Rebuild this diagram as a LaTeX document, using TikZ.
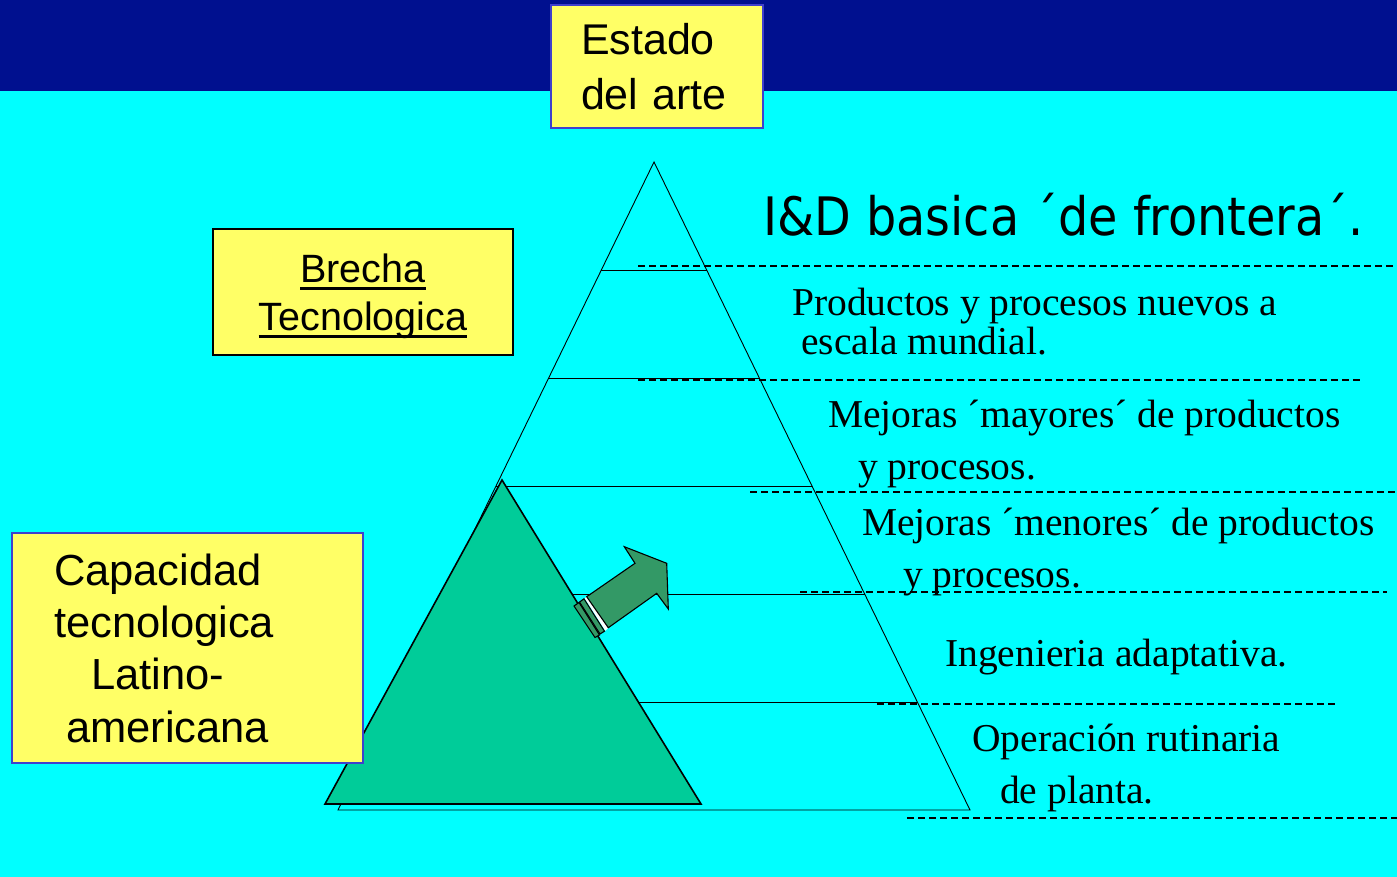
\documentclass[tikz,border=0pt]{standalone}
\usepackage{fontspec}
\setmainfont{Liberation Serif}
\newfontfamily\arialfont{Liberation Sans}
\newfontfamily\tahomafont{DejaVu Sans Condensed}
\usetikzlibrary{calc}
\definecolor{skycyan}{RGB}{0,255,255}
\definecolor{bandblue}{RGB}{0,16,143}
\definecolor{boxyellow}{RGB}{255,255,102}
\definecolor{boxline}{RGB}{64,64,204}
\definecolor{capgreen}{RGB}{0,204,153}
\definecolor{arrowgreen}{RGB}{51,153,102}
\newcommand{\ultext}[1]{\raisebox{0pt}[\height][0pt]{\setbox0\hbox{#1}\rlap{\rule[-7.5pt]{\wd0}{2.8pt}}\box0}}

\begin{document}
\begin{tikzpicture}[x=1pt,y=-1pt,
  layer/.style={line width=0.9pt},
  guide/.style={line width=1.2pt,dash pattern=on 7pt off 4pt},
  yellowbox/.style={fill=boxyellow,inner sep=0pt},
  levelfont/.style={font=\fontsize{39.5}{48}\selectfont,anchor=base west,inner sep=0pt}]
\tikzstyle{arrowpart}=[fill=arrowgreen,draw=black,line width=1.1pt,line join=miter]

\useasboundingbox (0,0) rectangle (1397,877);
\fill[skycyan] (0,0) rectangle (1397,877);
\fill[bandblue] (0,0) rectangle (1397,91);

\coordinate (apex) at (654,162);
\coordinate (baseL) at (338,810);
\coordinate (baseR) at (970,810);
\draw[layer] (apex) -- (baseL) -- (baseR) -- cycle;
\foreach \k in {1,...,5}
  \draw[layer] ($(apex)!{\k/6}!(baseL)$) -- ($(apex)!{\k/6}!(baseR)$);

\foreach \ya/\xa/\xb in {266/638/1397,380/638/1362,492/750/1397,592/800/1387,704/877/1335,818/907/1397}
  \draw[guide] (\xa,\ya) -- (\xb,\ya);

\coordinate (gtop) at (502,480);
\coordinate (gleft) at (325,804);
\coordinate (gright) at (701,804);
\filldraw[fill=capgreen,line width=1.6pt,line join=miter] (gtop) -- (gleft) -- (gright) -- cycle;

\filldraw[arrowpart] (574,606) -- (579,602.5) -- (599.5,635) -- (595,637.5) -- cycle;
\filldraw[arrowpart] (579.5,602) -- (584,598.8) -- (604.5,631.2) -- (600,634) -- cycle;
\fill[white] (584.8,598.3) -- (586.7,596.7) -- (608.3,627.7) -- (605.3,630.7) -- cycle;
\filldraw[arrowpart] (586.7,596.7) -- (635,563.3) -- (624.3,546.7) -- (666.7,563.3)
  -- (668.3,609) -- (656.7,593.3) -- (608.3,627.7) -- cycle;

\node[yellowbox,draw=boxline,line width=1.5pt,minimum width=212pt,minimum height=123pt,
  text width=152pt,inner xsep=30pt,align=left,font=\arialfont\fontsize{43}{55}\selectfont]
  (estado) at (657,66.5) {Estado\\del arte};
\node[yellowbox,draw=black,line width=2pt,minimum width=300pt,minimum height=126pt,
  align=center,font=\arialfont\fontsize{39.5}{48}\selectfont]
  (brecha) at (363,292) {\ultext{Brecha}\\\ultext{Tecnologica}};
\node[yellowbox,draw=boxline,line width=1.5pt,minimum width=351pt,minimum height=230pt,
  text width=267pt,inner xsep=42pt,align=left,font=\arialfont\fontsize{43.5}{52.3}\selectfont]
  (capacidad) at (187.5,648) {Capacidad\\tecnologica\\\hspace*{37pt}Latino-\\\hspace*{12pt}americana};

\node[font=\tahomafont\fontsize{53}{60}\selectfont,anchor=base west,inner sep=0pt]
  (frontera) at (763,236) {I\&D basica ´de frontera´.};
\node[levelfont] (nuevos) at (792,316) {Productos y procesos nuevos a};
\node[levelfont] (nuevosb) at (801,354) {escala mundial.};
\node[levelfont] (mayores) at (828,427) {Mejoras ´mayores´ de productos};
\node[levelfont] (mayoresb) at (858,479) {y procesos.};
\node[levelfont] (menores) at (862,535) {Mejoras ´menores´ de productos};
\node[levelfont] (menoresb) at (903,587) {y procesos.};
\node[levelfont] (adaptativa) at (945,666) {Ingenieria adaptativa.};
\node[levelfont] (rutinaria) at (972,751) {Operación rutinaria};
\node[levelfont] (rutinariab) at (1000,803) {de planta.};
\end{tikzpicture}
\end{document}
